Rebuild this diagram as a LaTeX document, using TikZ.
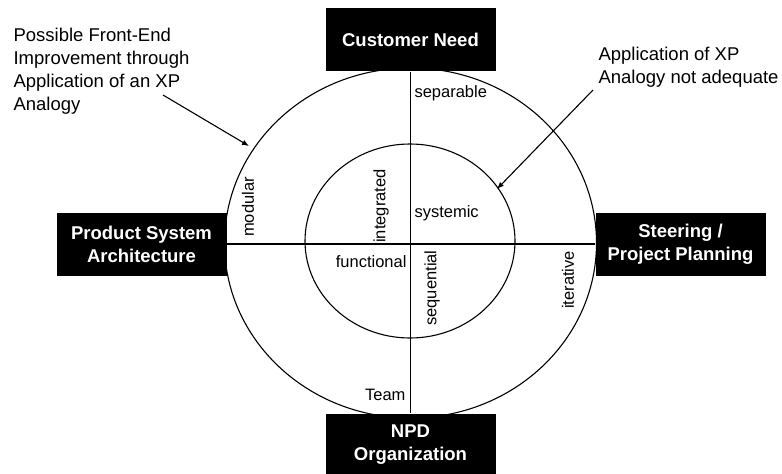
\documentclass[tikz,border=0pt]{standalone}
\usepackage{fontspec}
\setmainfont{Liberation Sans}
\usetikzlibrary{arrows.meta}

\begin{document}
\begin{tikzpicture}[x=1pt,y=-1pt,line width=1.1pt,
    box/.style={fill=black,text=white,font=\bfseries\fontsize{18.5}{23}\selectfont,
      align=center,minimum width=170pt,minimum height=63pt,inner sep=0pt},
    lbl/.style={font=\fontsize{16.5}{20}\selectfont,inner sep=0pt},
    note/.style={font=\fontsize{18.5}{23}\selectfont,align=left,inner sep=0pt,anchor=north west}]
        \useasboundingbox (0,0) rectangle (782,474);
        \draw (410.5,243) ellipse [x radius=186pt, y radius=175pt];
        \draw (410,241) ellipse [x radius=105pt, y radius=97pt];
        \node[box] (need) at (410.5,39.5) {Customer Need};
        \node[box] (arch) at (141.5,244) {Product System\\Architecture};
        \node[box] (steer) at (680.5,244) {Steering /\\Project Planning};
        \node[box] (npd) at (410.5,445) {NPD\\Organization};
        \draw (need) -- (npd);
        \draw (arch) -- (steer);
        \node[lbl, anchor=west] (sep) at (414,93) {separable};
        \node[lbl, anchor=west] (sys) at (414,213) {systemic};
        \node[lbl, anchor=east] (fun) at (407,262) {functional};
        \node[lbl, anchor=east] (team) at (406,395) {Team};
        \node[lbl, rotate=90] (int) at (381,206) {integrated};
        \node[lbl, rotate=90] (mod) at (248,207) {modular};
        \node[lbl, rotate=90] (seq) at (432,288) {sequential};
        \node[lbl, rotate=90] (ite) at (568,280) {iterative};
        \node[note] (front) at (13,28) {Possible Front-End\\Improvement through\\Application of an XP\\Analogy};
        \node[note] (xp) at (598,47) {Application of XP\\Analogy not adequate};
        \coordinate (a1) at (163,95);
        \coordinate (b1) at (249,146);
        \coordinate (a2) at (593,90);
        \coordinate (b2) at (497,189);
        \draw[-{Latex[length=7pt,width=5.5pt]}] (a1) -- (b1);
        \draw[-{Latex[length=7pt,width=5.5pt]}] (a2) -- (b2);
    \end{tikzpicture}
\end{document}
